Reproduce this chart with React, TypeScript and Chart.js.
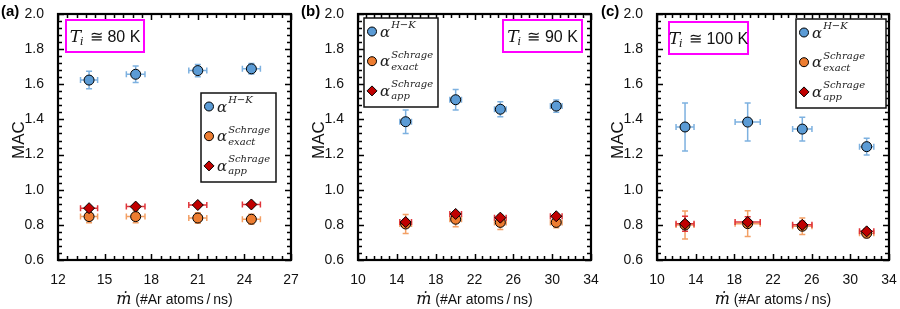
import React, { useEffect, useRef } from "react";
import { Chart, registerables } from "chart.js";
Chart.register(...registerables);

// ---------- data ----------
const panelLetters = ["(a)", "(b)", "(c)"];
const tempLabels = ["80 K", "90 K", "100 K"];
const yTickMin = 0.6;
const yTickMax = 2.0;
const yTickStep = 0.2;
const xTickMins = [12, 10, 10];
const xTickMaxs = [27, 34, 34];
const xTickSteps = [3, 4, 4];

// panel (a) Ti ≅ 80 K
const aMdot = [14.0, 17.0, 21.0, 24.45];
const aMdotErr = [0.55, 0.6, 0.58, 0.58];
const aHK = [1.624, 1.657, 1.678, 1.688];
const aHKErr = [0.05, 0.047, 0.035, 0.03];
const aExact = [0.847, 0.847, 0.839, 0.832];
const aExactErr = [0.035, 0.035, 0.03, 0.028];
const aApp = [0.895, 0.904, 0.913, 0.916];
const aAppErr = [0.01, 0.01, 0.01, 0.01];

// panel (b) Ti ≅ 90 K
const bMdot = [14.91, 20.06, 24.66, 30.42];
const bMdotErr = [0.6, 0.6, 0.6, 0.6];
const bHK = [1.387, 1.512, 1.458, 1.476];
const bHKErr = [0.067, 0.058, 0.043, 0.035];
const bExact = [0.805, 0.832, 0.814, 0.814];
const bExactErr = [0.054, 0.043, 0.04, 0.03];
const bApp = [0.816, 0.862, 0.841, 0.849];
const bAppErr = [0.015, 0.012, 0.012, 0.012];

// panel (c) Ti ≅ 100 K
const cMdot = [12.9, 19.38, 25.03, 31.69];
const cMdotErr = [0.93, 1.3, 1.0, 0.74];
const cHK = [1.357, 1.385, 1.345, 1.245];
const cHKErr = [0.136, 0.108, 0.068, 0.048];
const cExact = [0.799, 0.807, 0.792, 0.752];
const cExactErr = [0.08, 0.073, 0.047, 0.026];
const cApp = [0.806, 0.816, 0.8, 0.763];
const cAppErr = [0.043, 0.03, 0.02, 0.015];

// ---------- styles ----------
const BLUE = "#5B9BD5";
const BLUE_ERR = "#7DB1E0";
const ORANGE = "#ED7D31";
const ORANGE_ERR = "#F3A065";
const RED = "#C00000";
const RED_ERR = "#E0353A";
const SANS = "'Liberation Sans', Arial, Helvetica, sans-serif";
const SERIF = "'DejaVu Serif', 'Liberation Serif', serif";

type PanelCfg = {
  idx: number;
  mdot: number[];
  mdotErr: number[];
  hk: number[];
  hkErr: number[];
  exact: number[];
  exactErr: number[];
  app: number[];
  appErr: number[];
  plotLeft: number;
  padRight: number;
  legend: { x: number; y: number; w: number; h: number };
  tbox: { x: number; y: number; w: number; h: number };
};

const panels: PanelCfg[] = [
  {
    idx: 0, mdot: aMdot, mdotErr: aMdotErr, hk: aHK, hkErr: aHKErr, exact: aExact, exactErr: aExactErr,
    app: aApp, appErr: aAppErr, plotLeft: 58, padRight: 9,
    legend: { x: 201, y: 93, w: 75, h: 89 }, tbox: { x: 66, y: 20, w: 78, h: 32 },
  },
  {
    idx: 1, mdot: bMdot, mdotErr: bMdotErr, hk: bHK, hkErr: bHKErr, exact: bExact, exactErr: bExactErr,
    app: bApp, appErr: bAppErr, plotLeft: 58, padRight: 9,
    legend: { x: 64, y: 18, w: 74, h: 89 }, tbox: { x: 203, y: 20, w: 79, h: 32 },
  },
  {
    idx: 2, mdot: cMdot, mdotErr: cMdotErr, hk: cHK, hkErr: cHKErr, exact: cExact, exactErr: cExactErr,
    app: cApp, appErr: cAppErr, plotLeft: 57, padRight: 11,
    legend: { x: 196, y: 19, w: 90, h: 89 }, tbox: { x: 69, y: 22, w: 79, h: 32 },
  },
];

function drawErrors(ctx: CanvasRenderingContext2D, xs: any, ys: any, xv: number[], xe: number[], yv: number[], ye: number[], color: string) {
  ctx.save();
  ctx.strokeStyle = color;
  ctx.lineWidth = 1.5;
  const cap = 3;
  for (let i = 0; i < xv.length; i++) {
    const px = xs.getPixelForValue(xv[i]);
    const py = ys.getPixelForValue(yv[i]);
    const x0 = xs.getPixelForValue(xv[i] - xe[i]);
    const x1 = xs.getPixelForValue(xv[i] + xe[i]);
    const y0 = ys.getPixelForValue(yv[i] - ye[i]);
    const y1 = ys.getPixelForValue(yv[i] + ye[i]);
    ctx.beginPath();
    ctx.moveTo(x0, py); ctx.lineTo(x1, py);
    ctx.moveTo(x0, py - cap); ctx.lineTo(x0, py + cap);
    ctx.moveTo(x1, py - cap); ctx.lineTo(x1, py + cap);
    ctx.moveTo(px, y0); ctx.lineTo(px, y1);
    ctx.moveTo(px - cap, y0); ctx.lineTo(px + cap, y0);
    ctx.moveTo(px - cap, y1); ctx.lineTo(px + cap, y1);
    ctx.stroke();
  }
  ctx.restore();
}

function drawMarker(ctx: CanvasRenderingContext2D, x: number, y: number, kind: "circle" | "diamond", color: string) {
  ctx.save();
  ctx.fillStyle = color;
  ctx.strokeStyle = "#000";
  ctx.lineWidth = 1;
  ctx.beginPath();
  if (kind === "circle") {
    ctx.arc(x, y, 4.5, 0, Math.PI * 2);
  } else {
    const r = 5;
    ctx.moveTo(x, y - r); ctx.lineTo(x + r, y); ctx.lineTo(x, y + r); ctx.lineTo(x - r, y); ctx.closePath();
  }
  ctx.fill();
  ctx.stroke();
  ctx.restore();
}

function makeDecor(p: PanelCfg) {
  return {
    id: "decor" + p.idx,
    beforeDatasetsDraw(chart: any) {
      const ctx = chart.ctx as CanvasRenderingContext2D;
      const xs = chart.scales.x;
      const ys = chart.scales.y;
      drawErrors(ctx, xs, ys, p.mdot, p.mdotErr, p.hk, p.hkErr, BLUE_ERR);
      drawErrors(ctx, xs, ys, p.mdot, p.mdotErr, p.exact, p.exactErr, ORANGE_ERR);
      drawErrors(ctx, xs, ys, p.mdot, p.mdotErr, p.app, p.appErr, RED_ERR);
    },
    afterDraw(chart: any) {
      const ctx = chart.ctx as CanvasRenderingContext2D;
      const a = chart.chartArea;
      const xs = chart.scales.x;
      const ys = chart.scales.y;
      ctx.save();
      // inward ticks on all four sides
      ctx.strokeStyle = "#000";
      ctx.lineWidth = 1.5;
      const xmin = xTickMins[p.idx], xmax = xTickMaxs[p.idx], xstep = xTickSteps[p.idx];
      const nx = Math.round((xmax - xmin) / (xstep / 5));
      ctx.beginPath();
      for (let k = 0; k <= nx; k++) {
        const v = xmin + (k * xstep) / 5;
        const px = Math.round(xs.getPixelForValue(v)) + 0.5;
        const len = k % 5 === 0 ? 6 : 4;
        ctx.moveTo(px, a.bottom); ctx.lineTo(px, a.bottom - len);
        ctx.moveTo(px, a.top); ctx.lineTo(px, a.top + len);
      }
      const ny = Math.round((yTickMax - yTickMin) / (yTickStep / 5));
      for (let k = 0; k <= ny; k++) {
        const v = yTickMin + (k * yTickStep) / 5;
        const py = Math.round(ys.getPixelForValue(v)) + 0.5;
        const len = k % 5 === 0 ? 6 : 4;
        ctx.moveTo(a.left, py); ctx.lineTo(a.left + len, py);
        ctx.moveTo(a.right, py); ctx.lineTo(a.right - len, py);
      }
      ctx.stroke();
      // frame
      ctx.lineWidth = 2.2;
      ctx.strokeRect(a.left, a.top, a.right - a.left, a.bottom - a.top);

      // legend box
      const L = p.legend;
      const lx = a.left + L.x - p.plotLeft;
      ctx.fillStyle = "#fff";
      ctx.fillRect(lx, L.y, L.w, L.h);
      ctx.lineWidth = 1.5;
      ctx.strokeStyle = "#111";
      ctx.strokeRect(lx, L.y, L.w, L.h);
      const entries: { kind: "circle" | "diamond"; color: string; sup: string; sub: string }[] = [
        { kind: "circle", color: BLUE, sup: "H\u2212K", sub: "" },
        { kind: "circle", color: ORANGE, sup: "Schrage", sub: "exact" },
        { kind: "diamond", color: RED, sup: "Schrage", sub: "app" },
      ];
      entries.forEach((e, k) => {
        const my = L.y + 13.5 + k * 29.7;
        const mx = lx + 8;
        drawMarker(ctx, mx, my, e.kind, e.color);
        ctx.fillStyle = "#222";
        ctx.textBaseline = "alphabetic";
        ctx.textAlign = "left";
        ctx.font = `italic 15px ${SERIF}`;
        const ax = mx + 8;
        ctx.fillText("\u03B1", ax, my + 5);
        const aw = ctx.measureText("\u03B1").width;
        ctx.font = `italic 10px ${SERIF}`;
        ctx.fillText(e.sup, ax + aw + 1, my - 3.5);
        if (e.sub) ctx.fillText(e.sub, ax + aw + 1, my + 8.5);
      });

      // temperature box
      const T = p.tbox;
      const tx = a.left + T.x - p.plotLeft;
      ctx.fillStyle = "#fff";
      ctx.fillRect(tx, T.y, T.w, T.h);
      ctx.strokeStyle = "#FF00FF";
      ctx.lineWidth = 2;
      ctx.strokeRect(tx, T.y, T.w, T.h);
      const fT = `italic 17px ${SERIF}`;
      const fi = `italic 11px ${SERIF}`;
      const fR = `16px ${SANS}`;
      ctx.font = fT; const wT = ctx.measureText("T").width;
      ctx.font = fi; const wi = ctx.measureText("i").width;
      const rest = " \u2245 " + tempLabels[p.idx];
      ctx.font = fR; const wR = ctx.measureText(rest).width;
      const total = wT + wi + 1 + wR;
      let cx = tx + (T.w - total) / 2;
      const base = T.y + T.h / 2 + 6;
      ctx.fillStyle = "#111";
      ctx.font = fT; ctx.fillText("T", cx, base); cx += wT;
      ctx.font = fi; ctx.fillText("i", cx - 1, base + 3); cx += wi + 1;
      ctx.font = fR; ctx.fillText(rest, cx, base);

      // x axis title
      const fm = `italic 16px ${SERIF}`;
      const fx = `14px ${SANS}`;
      const xt = " (#Ar atoms\u2009/\u2009ns)";
      ctx.font = fm; const wm = ctx.measureText("\u1E41").width;
      ctx.font = fx; const wx = ctx.measureText(xt).width;
      let sx = (a.left + a.right) / 2 - (wm + wx) / 2;
      ctx.fillStyle = "#111";
      ctx.font = fm; ctx.fillText("\u1E41", sx, 304); sx += wm;
      ctx.font = fx; ctx.fillText(xt, sx, 304);

      // y axis title
      ctx.save();
      ctx.translate(a.left - 39, (a.top + a.bottom) / 2 + 3);
      ctx.rotate(-Math.PI / 2);
      ctx.font = `17px ${SANS}`;
      ctx.textAlign = "center";
      ctx.textBaseline = "middle";
      ctx.fillText("MAC", 0, 0);
      ctx.restore();

      // panel letter
      ctx.font = `bold 15px ${SANS}`;
      ctx.textAlign = "left";
      ctx.textBaseline = "alphabetic";
      ctx.fillStyle = "#000";
      ctx.fillText(panelLetters[p.idx], 1, 16);
      ctx.restore();
    },
  };
}

function Panel({ p }: { p: PanelCfg }) {
  const ref = useRef<HTMLCanvasElement | null>(null);
  useEffect(() => {
    if (!ref.current) return;
    const toPts = (ys: number[]) => p.mdot.map((x, i) => ({ x, y: ys[i] }));
    const tickFont = { family: SANS, size: 14 };
    const chart = new Chart(ref.current, {
      type: "scatter",
      data: {
        datasets: [
          {
            label: "alpha H-K", data: toPts(p.hk), order: 2, pointStyle: "circle", pointRadius: 5,
            backgroundColor: BLUE, borderColor: "#000", borderWidth: 1,
          },
          {
            label: "alpha Schrage exact", data: toPts(p.exact), order: 1, pointStyle: "circle", pointRadius: 5,
            backgroundColor: ORANGE, borderColor: "#000", borderWidth: 1,
          },
          {
            label: "alpha Schrage app", data: toPts(p.app), order: 0, pointStyle: "rectRot", pointRadius: 5.5,
            backgroundColor: RED, borderColor: "#000", borderWidth: 1,
          },
        ],
      },
      options: {
        responsive: false,
        animation: false,
        events: [],
        layout: { padding: { left: 0, right: p.padRight, top: 14, bottom: 0 } },
        plugins: { legend: { display: false }, tooltip: { enabled: false } },
        scales: {
          x: {
            type: "linear",
            min: xTickMins[p.idx],
            max: xTickMaxs[p.idx],
            afterFit: (s: any) => { s.height = 49; s.paddingLeft = 0; s.paddingRight = 0; },
            grid: { display: false, drawTicks: false },
            border: { display: false },
            ticks: { stepSize: xTickSteps[p.idx], font: tickFont, color: "#111", padding: 12, maxRotation: 0, autoSkip: false },
          },
          y: {
            type: "linear",
            min: yTickMin,
            max: yTickMax,
            afterFit: (s: any) => { s.width = p.plotLeft; s.paddingTop = 0; s.paddingBottom = 0; },
            grid: { display: false, drawTicks: false },
            border: { display: false },
            ticks: {
              stepSize: yTickStep, font: tickFont, color: "#111", padding: 14,
              callback: (v: any) => Number(v).toFixed(1),
            },
          },
        },
      },
      plugins: [makeDecor(p)],
    } as any);
    return () => chart.destroy();
  }, [p]);
  return (
    <div style={{ position: "absolute", left: p.idx * 300, top: 0, width: 300, height: 309 }}>
      <canvas ref={ref} width={300} height={309} style={{ display: "block" }} />
    </div>
  );
}

export default function App() {
  return (
    <div style={{ position: "absolute", left: 0, top: 0, width: 900, height: 309, background: "#fff" }}>
      {panels.map((p) => (
        <Panel key={p.idx} p={p} />
      ))}
    </div>
  );
}
